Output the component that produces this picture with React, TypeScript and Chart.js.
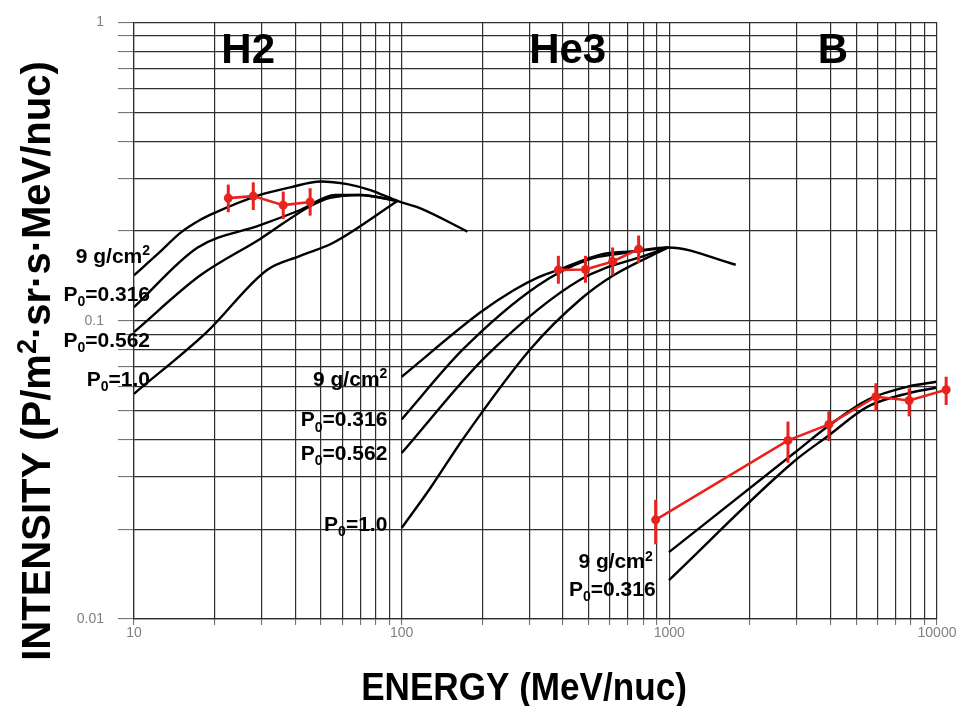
import React, { useEffect, useRef } from 'react';
import { Chart, registerables } from 'chart.js';

Chart.register(...registerables);

const FONT = '"Liberation Sans", Arial, Helvetica, sans-serif';
const RED = '#e8231d';
const BLACK = '#000000';

// ---- axis ticks ----
const xTickValues = [10, 20, 30, 40, 50, 60, 70, 80, 90, 100, 200, 300, 400, 500, 600, 700, 800, 900,
  1000, 2000, 3000, 4000, 5000, 6000, 7000, 8000, 9000, 10000];
const xTickLabels = ['10', '100', '1000', '10000'];
const yTickValues = [0.01, 0.02, 0.03, 0.04, 0.05, 0.06, 0.07, 0.08, 0.09, 0.1, 0.2, 0.3, 0.4, 0.5,
  0.6, 0.7, 0.8, 0.9, 1];
const yTickLabels = ['0.01', '0.1', '1'];

// ---- H2 model curves ----
const h2Energy9g = [10, 12.5, 14.9, 17.7, 19.8, 29.6, 38.4, 49.7, 62.7, 76.4, 96.4, 117.5, 176];
const h2Flux9g = [0.142, 0.17, 0.197, 0.218, 0.229, 0.264, 0.28, 0.293, 0.287, 0.274, 0.252, 0.238, 0.199];
const h2EnergyP0316 = [10, 17.3, 29.6, 41.8, 56.5, 70, 96.4];
const h2FluxP0316 = [0.111, 0.176, 0.209, 0.235, 0.264, 0.264, 0.252];
const h2EnergyP0562 = [10, 17.7, 29.6, 45.5, 54, 70, 96.4];
const h2FluxP0562 = [0.0916, 0.142, 0.188, 0.242, 0.258, 0.264, 0.252];
const h2EnergyP1 = [10, 18.7, 31.4, 41.8, 55.5, 96.4];
const h2FluxP1 = [0.0569, 0.0916, 0.148, 0.165, 0.1825, 0.252];

// ---- He3 model curves ----
const he3Energy9g = [100, 197, 262, 322, 393, 553, 736, 990, 1770];
const he3Flux9g = [0.0649, 0.1067, 0.1265, 0.1395, 0.149, 0.1665, 0.171, 0.176, 0.154];
const he3EnergyP0316 = [100, 170, 322, 495, 658, 990];
const he3FluxP0316 = [0.0467, 0.0804, 0.131, 0.16, 0.168, 0.176];
const he3EnergyP0562 = [100, 209, 466, 830, 990];
const he3FluxP0562 = [0.036, 0.0768, 0.1375, 0.1665, 0.176];
const he3EnergyP1 = [100, 128, 170, 303, 466, 619, 990];
const he3FluxP1 = [0.0202, 0.0275, 0.0403, 0.0804, 0.118, 0.142, 0.176];

// ---- B model curves ----
const bEnergy9g = [997, 2928, 3904, 5508, 7780, 9930];
const bFlux9g = [0.01675, 0.036, 0.0442, 0.0543, 0.0601, 0.0624];
const bEnergyP0316 = [997, 2928, 3904, 5508, 7780, 9930];
const bFluxP0316 = [0.0135, 0.0338, 0.041, 0.0515, 0.0571, 0.0596];

// ---- measured data (red) ----
const h2DataEnergy = [22.5, 27.9, 36.1, 45.5];
const h2DataFlux = [0.2576, 0.2616, 0.244, 0.25];
const h2DataHigh = [0.286, 0.291, 0.271, 0.278];
const h2DataLow = [0.231, 0.235, 0.219, 0.225];

const he3DataEnergy = [385, 486, 614, 768];
const he3DataFlux = [0.148, 0.1485, 0.158, 0.1737];
const he3DataHigh = [0.165, 0.165, 0.176, 0.193];
const he3DataLow = [0.133, 0.134, 0.142, 0.156];

const bDataEnergy = [889, 2775, 3945, 5910, 7870, 10820];
const bDataFlux = [0.0215, 0.0397, 0.0449, 0.0556, 0.054, 0.0587];
const bDataHigh = [0.0251, 0.0459, 0.0497, 0.0617, 0.0593, 0.0649];
const bDataLow = [0.0178, 0.0334, 0.0395, 0.0497, 0.0478, 0.0522];

// ---- text annotations (in data coordinates) ----
const groupNames = ['H2', 'He3', 'B'];
const groupNameEnergy = [26.7, 417, 4083];
const groupNameFlux = [0.73, 0.73, 0.73];

const curveLabels = ['9 g/cm^2', 'P_0=0.316', 'P_0=0.562', 'P_0=1.0',
  '9 g/cm^2', 'P_0=0.316', 'P_0=0.562', 'P_0=1.0',
  '9 g/cm^2', 'P_0=0.316'];
const curveLabelEnergy = [11.48, 11.48, 11.48, 11.48, 88.4, 88.4, 88.4, 88.4, 867, 889];
const curveLabelFlux = [0.1566, 0.1161, 0.0816, 0.0605, 0.0605, 0.0442, 0.0341, 0.0198, 0.01478, 0.01193];

const yTitle = 'INTENSITY (P/m^2·sr·s·MeV/nuc)';
const xTitle = 'ENERGY (MeV/nuc)';

type Part = { t: string; k: 'n' | '^' | '_' };

function parseRich(text: string): Part[] {
  const parts: Part[] = [];
  for (let i = 0; i < text.length; i++) {
    const c = text[i];
    if ((c === '^' || c === '_') && i + 1 < text.length) {
      parts.push({ t: text[i + 1], k: c as '^' | '_' });
      i++;
    } else {
      const last = parts[parts.length - 1];
      if (last && last.k === 'n') last.t += c;
      else parts.push({ t: c, k: 'n' });
    }
  }
  return parts;
}

function drawRich(ctx: CanvasRenderingContext2D, text: string, x: number, y: number, size: number,
  align: 'left' | 'center' | 'right', color = '#000') {
  const parts = parseRich(text);
  const fontFor = (k: string) => `bold ${k === 'n' ? size : Math.round(size * 0.68)}px ${FONT}`;
  let total = 0;
  const widths = parts.map((p) => {
    ctx.font = fontFor(p.k);
    const w = ctx.measureText(p.t).width;
    total += w;
    return w;
  });
  let cx = align === 'left' ? x : align === 'center' ? x - total / 2 : x - total;
  ctx.fillStyle = color;
  ctx.textAlign = 'left';
  ctx.textBaseline = 'alphabetic';
  parts.forEach((p, i) => {
    ctx.font = fontFor(p.k);
    const dy = p.k === '^' ? -size * 0.36 : p.k === '_' ? size * 0.24 : 0;
    ctx.fillText(p.t, cx, y + dy);
    cx += widths[i];
  });
}

const errorSeries = [
  { xs: h2DataEnergy, ys: h2DataFlux, hi: h2DataHigh, lo: h2DataLow },
  { xs: he3DataEnergy, ys: he3DataFlux, hi: he3DataHigh, lo: he3DataLow },
  { xs: bDataEnergy, ys: bDataFlux, hi: bDataHigh, lo: bDataLow },
];

const annotationPlugin = {
  id: 'annotations',
  afterDatasetsDraw(chart: any) {
    const { ctx } = chart;
    const xs = chart.scales.x;
    const ys = chart.scales.y;
    ctx.save();
    // error bars and markers
    ctx.strokeStyle = RED;
    ctx.fillStyle = RED;
    ctx.lineWidth = 3;
    ctx.lineCap = 'butt';
    errorSeries.forEach((s) => {
      s.xs.forEach((e, i) => {
        const px = xs.getPixelForValue(e);
        ctx.beginPath();
        ctx.moveTo(px, ys.getPixelForValue(s.hi[i]));
        ctx.lineTo(px, ys.getPixelForValue(s.lo[i]));
        ctx.stroke();
        ctx.beginPath();
        ctx.arc(px, ys.getPixelForValue(s.ys[i]), 4.5, 0, Math.PI * 2);
        ctx.fill();
      });
    });
    // group names
    groupNames.forEach((g, i) => {
      drawRich(ctx, g, xs.getPixelForValue(groupNameEnergy[i]), ys.getPixelForValue(groupNameFlux[i]), 42, 'center');
    });
    // curve labels
    curveLabels.forEach((l, i) => {
      drawRich(ctx, l, xs.getPixelForValue(curveLabelEnergy[i]), ys.getPixelForValue(curveLabelFlux[i]), 21, 'right');
    });
    ctx.restore();
  },
  afterDraw(chart: any) {
    const { ctx } = chart;
    ctx.save();
    ctx.translate(50, 361);
    ctx.rotate(-Math.PI / 2);
    drawRich(ctx, yTitle, 0, 0, 40, 'center');
    ctx.restore();
    ctx.save();
    ctx.translate(524, 700);
    ctx.scale(0.9, 1);
    drawRich(ctx, xTitle, 0, 0, 39, 'center');
    ctx.restore();
  },
};

const zip = (xs: number[], ys: number[]) => xs.map((x, i) => ({ x, y: ys[i] }));

const blackCurves: [number[], number[]][] = [
  [h2Energy9g, h2Flux9g], [h2EnergyP0316, h2FluxP0316], [h2EnergyP0562, h2FluxP0562], [h2EnergyP1, h2FluxP1],
  [he3Energy9g, he3Flux9g], [he3EnergyP0316, he3FluxP0316], [he3EnergyP0562, he3FluxP0562], [he3EnergyP1, he3FluxP1],
  [bEnergy9g, bFlux9g], [bEnergyP0316, bFluxP0316],
];
const redSeries: [number[], number[]][] = [
  [h2DataEnergy, h2DataFlux], [he3DataEnergy, he3DataFlux], [bDataEnergy, bDataFlux],
];

const isLabel = (v: number, labels: string[]) => labels.some((l) => Math.abs(parseFloat(l) - v) < 1e-9 * Math.max(1, v));

export default function App() {
  const ref = useRef<HTMLCanvasElement>(null);
  useEffect(() => {
    document.body.style.margin = '0';
    if (!ref.current) return;
    const gridCommon = {
      color: '#2e2e2e',
      lineWidth: 1.2,
      tickColor: '#666',
      tickWidth: 1,
    };
    const chart = new Chart(ref.current, {
      type: 'scatter',
      data: {
        datasets: [
          ...redSeries.map(([xs, ys]) => ({
            data: zip(xs, ys),
            showLine: true,
            borderColor: RED,
            backgroundColor: RED,
            borderWidth: 2.6,
            pointRadius: 0,
            tension: 0,
            clip: false as any,
            order: 0,
          })),
          ...blackCurves.map(([xs, ys]) => ({
            data: zip(xs, ys),
            showLine: true,
            borderColor: BLACK,
            backgroundColor: BLACK,
            borderWidth: 2.4,
            pointRadius: 0,
            cubicInterpolationMode: 'monotone' as const,
            order: 1,
          })),
        ],
      },
      options: {
        responsive: false,
        animation: false,
        devicePixelRatio: 1,
        layout: { padding: { top: 18, right: 22, left: 0, bottom: 0 } },
        plugins: { legend: { display: false }, tooltip: { enabled: false } },
        scales: {
          x: {
            type: 'logarithmic',
            min: 10,
            max: 10000,
            afterBuildTicks: (s: any) => { s.ticks = xTickValues.map((v) => ({ value: v })); },
            afterFit: (s: any) => { s.height = 87; },
            ticks: {
              autoSkip: false,
              maxRotation: 0,
              padding: 0,
              color: '#808080',
              font: { family: FONT, size: 14 },
              callback: (v: any) => (isLabel(Number(v), xTickLabels) ? String(Number(v)) : ''),
            },
            grid: { ...gridCommon, tickLength: 6 },
            border: { display: true, color: '#2e2e2e', width: 1.2 },
          },
          y: {
            type: 'logarithmic',
            min: 0.01,
            max: 1,
            afterBuildTicks: (s: any) => { s.ticks = yTickValues.map((v) => ({ value: v })); },
            afterFit: (s: any) => { s.width = 134; },
            ticks: {
              autoSkip: false,
              padding: 14,
              color: '#808080',
              font: { family: FONT, size: 14 },
              callback: (v: any) => {
                const n = Number(v);
                const l = yTickLabels.find((t) => Math.abs(parseFloat(t) - n) < 1e-9);
                return l ? l : '';
              },
            },
            grid: { ...gridCommon, tickLength: 16 },
            border: { display: true, color: '#2e2e2e', width: 1.2 },
          },
        },
      } as any,
      plugins: [annotationPlugin],
    });
    return () => chart.destroy();
  }, []);
  return (
    <div style={{ position: 'fixed', left: 0, top: 0, width: 959, height: 706, background: '#fff' }}>
      <canvas ref={ref} width={959} height={706} style={{ width: 959, height: 706, display: 'block' }} />
    </div>
  );
}
